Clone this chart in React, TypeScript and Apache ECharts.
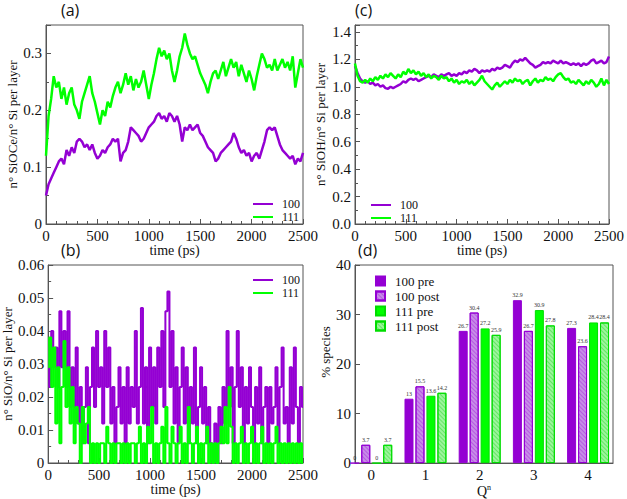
import React, { useEffect, useRef } from "react";
import * as echarts from "echarts";

// ---------- data ----------
const A_STEP = 25; // ps between samples in panels (a) and (c)
const B_STEP = 20; // ps between samples in panel (b)

const A_100 = [
  0.05, 0.07, 0.08, 0.09, 0.1, 0.11, 0.115, 0.105, 0.13, 0.12,
  0.135, 0.125, 0.145, 0.15, 0.145, 0.135, 0.14, 0.13, 0.14, 0.125,
  0.115, 0.12, 0.13, 0.125, 0.135, 0.14, 0.15, 0.145, 0.15, 0.11,
  0.125, 0.13, 0.145, 0.17, 0.165, 0.16, 0.155, 0.145, 0.15, 0.16,
  0.17, 0.175, 0.18, 0.19, 0.195, 0.185, 0.19, 0.18, 0.195, 0.19,
  0.18, 0.19, 0.175, 0.145, 0.17, 0.165, 0.175, 0.165, 0.17, 0.175,
  0.16, 0.155, 0.145, 0.135, 0.13, 0.125, 0.11, 0.115, 0.125, 0.13,
  0.135, 0.14, 0.145, 0.16, 0.15, 0.135, 0.125, 0.13, 0.12, 0.125,
  0.11, 0.12, 0.125, 0.115, 0.13, 0.145, 0.165, 0.17, 0.165, 0.17,
  0.155, 0.14, 0.13, 0.125, 0.12, 0.115, 0.12, 0.105, 0.115, 0.11,
  0.125,
];
const A_111 = [
  0.12, 0.19, 0.22, 0.26, 0.24, 0.25, 0.22, 0.24, 0.21, 0.23,
  0.24, 0.21, 0.2, 0.185, 0.215, 0.23, 0.245, 0.26, 0.23, 0.215,
  0.195, 0.175, 0.2, 0.19, 0.215, 0.205, 0.225, 0.24, 0.25, 0.23,
  0.245, 0.265, 0.245, 0.26, 0.235, 0.255, 0.24, 0.25, 0.27, 0.245,
  0.22, 0.245, 0.265, 0.29, 0.31, 0.295, 0.305, 0.29, 0.3, 0.27,
  0.25, 0.27, 0.295, 0.31, 0.335, 0.315, 0.3, 0.29, 0.295, 0.28,
  0.265, 0.255, 0.245, 0.23, 0.25, 0.265, 0.27, 0.255, 0.27, 0.285,
  0.26, 0.275, 0.29, 0.275, 0.285, 0.26, 0.28, 0.265, 0.25, 0.27,
  0.255, 0.235, 0.26, 0.28, 0.3, 0.29, 0.275, 0.28, 0.27, 0.29,
  0.27, 0.28, 0.29, 0.275, 0.285, 0.27, 0.295, 0.24, 0.265, 0.29,
  0.275,
];

const C_100 = [
  1.15, 1.1, 1.06, 1.04, 1.03, 1.04, 1.02, 1.03, 1.01, 1.02,
  1.0, 1.01, 0.99, 0.985, 1.0, 0.99, 1.0, 1.01, 1.02, 1.04,
  1.03, 1.05, 1.06, 1.05, 1.06, 1.04, 1.05, 1.06, 1.07, 1.08,
  1.07, 1.09, 1.08, 1.07, 1.09, 1.08, 1.09, 1.1, 1.08, 1.09,
  1.08, 1.1, 1.09, 1.11, 1.1, 1.12, 1.11, 1.13, 1.12, 1.1,
  1.12, 1.11, 1.12, 1.11, 1.13, 1.12, 1.14, 1.13, 1.14, 1.16,
  1.15, 1.14, 1.17, 1.19, 1.18, 1.2, 1.19, 1.21, 1.19, 1.17,
  1.16, 1.14, 1.15, 1.16, 1.18, 1.17, 1.18, 1.17, 1.19, 1.18,
  1.17, 1.19, 1.17, 1.18, 1.17, 1.16, 1.17, 1.16, 1.17, 1.15,
  1.17, 1.16, 1.17, 1.19, 1.2, 1.17, 1.18, 1.19, 1.17, 1.18,
  1.22,
];
const C_111 = [
  1.17, 1.08, 1.04, 1.03, 1.05, 1.03, 1.06, 1.04, 1.07, 1.05,
  1.08, 1.06, 1.09, 1.07, 1.1, 1.08, 1.06, 1.09, 1.07, 1.11,
  1.09, 1.13, 1.1, 1.12, 1.09, 1.11, 1.08, 1.1, 1.07, 1.09,
  1.06, 1.08, 1.07, 1.05, 1.08, 1.06, 1.07, 1.04, 1.06, 1.03,
  1.05, 1.02, 1.04, 1.03, 1.05, 1.02, 1.04, 1.01, 1.03, 1.05,
  1.08, 1.04, 1.02, 1.0, 0.98, 1.01, 1.03, 1.0, 1.02, 1.04,
  1.02, 1.05, 1.03, 1.06, 1.04, 1.05, 1.02, 1.04, 1.05, 1.01,
  1.04, 1.06, 1.03, 1.05, 1.04, 1.07, 1.05, 1.06, 1.04, 1.07,
  1.09, 1.1, 1.07, 1.05, 1.06, 1.03, 1.04, 1.02, 1.05, 1.03,
  1.01, 1.04, 1.02, 1.05, 1.03, 1.0, 1.02, 1.06, 1.01, 1.05,
  1.02,
];

const B_100 = [
  0.035, 0.023, 0.04, 0.029, 0.035, 0.023, 0.046, 0.029, 0.04, 0.023,
  0.046, 0.017, 0.029, 0.012, 0.035, 0.012, 0.023, 0.006, 0.017, 0.029,
  0.006, 0.023, 0.035, 0.017, 0.04, 0.023, 0.029, 0.012, 0.04, 0.023,
  0.035, 0.012, 0.023, 0.006, 0.017, 0.029, 0.012, 0.023, 0.006, 0.029,
  0.012, 0.023, 0.017, 0.04, 0.012, 0.023, 0.047, 0.012, 0.029, 0.006,
  0.035, 0.017, 0.029, 0.012, 0.035, 0.023, 0.04, 0.017, 0.046, 0.052,
  0.023, 0.04, 0.012, 0.029, 0.006, 0.023, 0.035, 0.012, 0.029, 0.006,
  0.023, 0.012, 0.035, 0.006, 0.017, 0.029, 0.012, 0.023, 0.006, 0.017,
  0.006, 0, 0.012, 0, 0.017, 0.006, 0.023, 0.012, 0.04, 0.017,
  0.029, 0.006, 0.023, 0.04, 0.017, 0.029, 0.006, 0.023, 0.012, 0.029,
  0.017, 0.006, 0.023, 0.012, 0.029, 0.006, 0.017, 0.023, 0.006, 0.023,
  0.012, 0.017, 0.029, 0.006, 0.023, 0.035, 0.012, 0.017, 0.006, 0.029,
  0.012, 0.035, 0.017, 0.006, 0.023, 0.017,
];
const B_111 = [
  0.029, 0.038, 0.023, 0.035, 0.012, 0.029, 0.006, 0.023, 0.037, 0.017,
  0.029, 0.012, 0.023, 0.006, 0.017, 0.012, 0, 0.017, 0.006, 0.012,
  0.017, 0, 0.006, 0, 0.006, 0, 0.006, 0.006, 0, 0.011,
  0.006, 0, 0.006, 0, 0.006, 0.006, 0, 0.006, 0, 0.006,
  0, 0.006, 0.006, 0, 0.006, 0.011, 0, 0.006, 0, 0.011,
  0.006, 0.017, 0, 0.006, 0, 0.006, 0.011, 0, 0.017, 0.006,
  0, 0.011, 0.006, 0, 0.006, 0.011, 0, 0.006, 0, 0.017,
  0.006, 0, 0.006, 0.011, 0, 0.006, 0, 0.006, 0.011, 0,
  0.006, 0, 0.006, 0, 0.006, 0.011, 0.006, 0.017, 0.006, 0.023,
  0.011, 0, 0.006, 0, 0.006, 0.011, 0, 0.006, 0, 0.006,
  0.011, 0, 0.006, 0, 0.006, 0.011, 0, 0.006, 0, 0.006,
  0, 0.006, 0.011, 0, 0.006, 0, 0.006, 0, 0.006, 0,
  0.006, 0, 0.006, 0, 0.006, 0,
];

const Q_N = [0, 1, 2, 3, 4];
const PRE_100 = [0, 13, 26.7, 32.9, 27.3];
const POST_100 = [3.7, 15.5, 30.4, 26.7, 23.6];
const PRE_111 = [0, 13.6, 27.2, 30.9, 28.4];
const POST_111 = [3.7, 14.2, 25.9, 27.8, 28.4];

// ---------- styles ----------
const PURPLE = "#9400d3";
const GREEN = "#00ff00";
const PURPLE_LIGHT = "#c78ce8";
const GREEN_LIGHT = "#9cf59c";
const FRAME = "#555";
const SERIF = "'Liberation Serif', 'DejaVu Serif', serif";
const SANS = "'Open Sans', sans-serif";

const toPairs = (vals: number[], step: number) => vals.map((v, i) => [i * step, v]);
const plain = (v: number) => String(v);

function timeAxis(gridIndex: number) {
  return {
    type: "value",
    gridIndex,
    min: 0,
    max: 2500,
    interval: 500,
    name: "time (ps)",
    nameLocation: "middle",
    nameGap: 17,
    nameTextStyle: { fontFamily: SERIF, fontSize: 14, color: "#111" },
    axisLine: { onZero: false, lineStyle: { color: FRAME } },
    axisTick: { inside: true, length: 5, lineStyle: { color: FRAME } },
    minorTick: { show: true, splitNumber: 5, length: 3, lineStyle: { color: FRAME } },
    axisLabel: { fontFamily: SERIF, fontSize: 15, color: "#111", margin: 4, formatter: plain },
    splitLine: { show: false },
  };
}

function yAxisOf(
  gridIndex: number,
  name: string,
  max: number,
  interval: number,
  nameGap: number,
  showMax: boolean,
  fmt: (v: number) => string,
  minor = true,
  namePad: number[] = [0, 0, 0, 0]
) {
  return {
    type: "value",
    gridIndex,
    min: 0,
    max,
    interval,
    name,
    nameLocation: "middle",
    nameGap,
    nameTextStyle: { fontFamily: SERIF, fontSize: 13, color: "#111", padding: namePad },
    axisLine: { show: true, onZero: false, lineStyle: { color: FRAME } },
    axisTick: { show: true, inside: true, length: 5, lineStyle: { color: FRAME } },
    minorTick: { show: minor, splitNumber: 2, length: 3, lineStyle: { color: FRAME } },
    axisLabel: {
      fontFamily: SERIF,
      fontSize: 15,
      color: "#111",
      margin: 4,
      showMaxLabel: showMax,
      formatter: fmt,
    },
    splitLine: { show: false },
  };
}

function lineSeries(name: string, color: string, data: number[][], axisIndex: number, width: number, step?: string) {
  return {
    type: "line",
    name,
    xAxisIndex: axisIndex,
    yAxisIndex: axisIndex,
    data,
    symbol: "none",
    step: step || false,
    color,
    lineStyle: { color, width },
    itemStyle: { color },
  };
}

function lineLegend(left: number, top: number) {
  return {
    data: ["100", "111"],
    left,
    top,
    orient: "vertical",
    icon: "rect",
    itemWidth: 20,
    itemHeight: 2,
    itemGap: 1,
    selectedMode: false,
    textStyle: { fontFamily: SERIF, fontSize: 12, color: "#111", lineHeight: 11, padding: [0, 0, 0, 4] },
  };
}

function hatch(color: string) {
  return {
    symbol: "rect",
    symbolSize: 1,
    dashArrayX: [1, 0],
    dashArrayY: [1, 2],
    rotation: Math.PI / 4,
    color,
  };
}

function barSeries(name: string, vals: number[], fill: string, border: string, decal?: any) {
  return {
    type: "bar",
    name,
    xAxisIndex: 3,
    yAxisIndex: 3,
    data: vals.map((v, i) => [Q_N[i], v]),
    barWidth: 9,
    barGap: "22%",
    itemStyle: { color: fill, borderColor: border, borderWidth: 1, decal },
    label: {
      show: true,
      position: "top",
      distance: 2,
      fontFamily: SERIF,
      fontSize: 6,
      color: "#333",
      formatter: (p: any) => String(p.value[1]),
    },
  };
}

export default function App() {
  const ref = useRef<HTMLDivElement>(null);

  useEffect(() => {
    if (!ref.current) return;
    const chart = echarts.init(ref.current, undefined, { renderer: "svg" });

    const option: any = {
      animation: false,
      backgroundColor: "#fff",
      textStyle: { fontFamily: SERIF },
      grid: [
        { left: 46, top: 25, width: 257, height: 199, show: true, borderColor: FRAME, borderWidth: 1 },
        { left: 46, top: 265, width: 257, height: 198, show: true, borderColor: FRAME, borderWidth: 1 },
        { left: 355, top: 25, width: 258, height: 199, show: true, borderColor: FRAME, borderWidth: 1 },
        { left: 355, top: 265, width: 258, height: 199, show: true, borderColor: FRAME, borderWidth: 1 },
      ],
      xAxis: [
        timeAxis(0),
        timeAxis(1),
        timeAxis(2),
        {
          type: "value",
          gridIndex: 3,
          min: -0.3,
          max: 4.46,
          name: "{q|Q}{s|n}",
          nameLocation: "middle",
          nameGap: 17,
          nameTextStyle: {
            rich: {
              q: { fontFamily: SERIF, fontSize: 14, color: "#111" },
              s: { fontFamily: SERIF, fontSize: 8, color: "#111", padding: [0, 0, 8, 0] },
            },
          },
          axisLine: { onZero: false, lineStyle: { color: FRAME } },
          axisTick: { show: false },
          axisLabel: { fontFamily: SERIF, fontSize: 15, color: "#111", margin: 4, customValues: Q_N, formatter: plain },
          splitLine: { show: false },
        },
      ],
      yAxis: [
        yAxisOf(0, "n° SiOCe/n° Si per layer", 0.35, 0.1, 26, false, plain),
        yAxisOf(1, "n° SiO/n° Si per layer", 0.06, 0.01, 29, true, plain),
        yAxisOf(2, "n° SiOH/n° Si per layer", 1.45, 0.2, 28, false, (v: number) => v.toFixed(1)),
        yAxisOf(3, "% species", 40, 10, 21, true, plain, false, [0, 0, 0, 24]),
      ],
      legend: [
        lineLegend(248, 193),
        lineLegend(248, 269),
        lineLegend(366, 194),
        {
          data: ["100 pre", "100 post", "111 pre", "111 post"],
          left: 370,
          top: 269,
          orient: "vertical",
          icon: "rect",
          itemWidth: 9,
          itemHeight: 9,
          itemGap: 1,
          selectedMode: false,
          textStyle: { fontFamily: SERIF, fontSize: 13, color: "#111", lineHeight: 14, padding: [0, 0, 0, 5] },
        },
      ],
      graphic: [
        { type: "text", left: 61, top: 2, style: { text: "(a)", fontFamily: SANS, fontSize: 16, fill: "#111" } },
        { type: "text", left: 355, top: 2, style: { text: "(c)", fontFamily: SANS, fontSize: 16, fill: "#111" } },
        { type: "text", left: 61, top: 242, style: { text: "(b)", fontFamily: SANS, fontSize: 16, fill: "#111" } },
        { type: "text", left: 358, top: 242, style: { text: "(d)", fontFamily: SANS, fontSize: 16, fill: "#111" } },
      ],
      series: [
        lineSeries("100", PURPLE, toPairs(A_100, A_STEP), 0, 2.5),
        lineSeries("111", GREEN, toPairs(A_111, A_STEP), 0, 2.5),
        lineSeries("100", PURPLE, toPairs(B_100, B_STEP), 1, 2, "middle"),
        lineSeries("111", GREEN, toPairs(B_111, B_STEP), 1, 2, "middle"),
        lineSeries("100", PURPLE, toPairs(C_100, A_STEP), 2, 2.5),
        lineSeries("111", GREEN, toPairs(C_111, A_STEP), 2, 2.5),
        barSeries("100 pre", PRE_100, PURPLE, PURPLE),
        barSeries("100 post", POST_100, PURPLE_LIGHT, PURPLE, hatch("rgba(148,0,211,0.35)")),
        barSeries("111 pre", PRE_111, GREEN, "#00dd00"),
        barSeries("111 post", POST_111, GREEN_LIGHT, "#00dd00", hatch("rgba(0,200,0,0.35)")),
      ],
    };

    chart.setOption(option);
    return () => chart.dispose();
  }, []);

  return (
    <div
      ref={ref}
      style={{ position: "fixed", left: 0, top: 0, width: 627, height: 499, background: "#fff" }}
    />
  );
}
